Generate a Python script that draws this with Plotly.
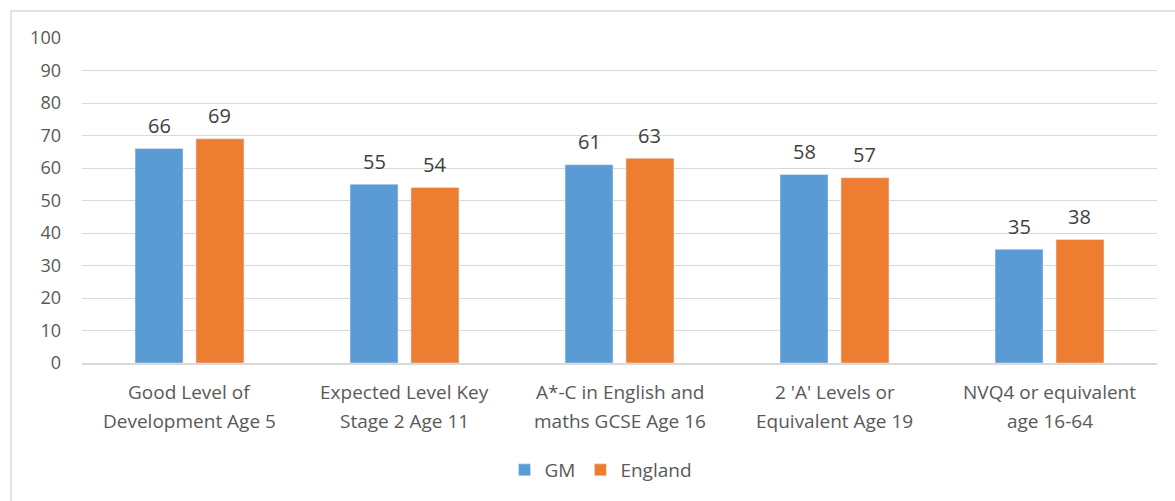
import plotly.graph_objects as go

categories = [
    "Good Level of<br>Development Age 5",
    "Expected Level Key<br>Stage 2 Age 11",
    "A*-C in English and<br>maths GCSE Age 16",
    "2 'A' Levels or<br>Equivalent Age 19",
    "NVQ4 or equivalent<br>age 16-64",
]
gm_values = [66, 55, 61, 58, 35]
england_values = [69, 54, 63, 57, 38]
y_ticks = [0, 10, 20, 30, 40, 50, 60, 70, 80, 90, 100]

FONT = "Open Sans"
TEXT_GREY = "#595959"
LABEL_GREY = "#404040"
GRID = "#d9d9d9"

W, H = 1175, 501
ML, MR, MT, MB = 82, 18, 38, 138
plot_w = W - ML - MR
plot_h = H - MT - MB

BARGAP = 0.433
GROUPGAP = 0.213
# horizontal offset of each bar centre from its category centre, in pixels
slot_px = plot_w / len(categories) * (1 - BARGAP) / 2

fig = go.Figure()
fig.add_trace(go.Bar(name="GM", x=categories, y=gm_values, marker_color="#5B9BD5"))
fig.add_trace(go.Bar(name="England", x=categories, y=england_values, marker_color="#ED7D31"))

# Value labels above each bar
for values, side in ((gm_values, -1), (england_values, 1)):
    for cat, v in zip(categories, values):
        fig.add_annotation(
            x=cat, xref="x", y=v, yref="y",
            text=str(v), showarrow=False,
            xanchor="center", yanchor="middle",
            xshift=side * slot_px / 2, yshift=23,
            font=dict(family=FONT, size=20, color=LABEL_GREY),
        )

# Category labels drawn as two stacked lines for wider line spacing
for cat in categories:
    for i, line in enumerate(cat.split("<br>")):
        fig.add_annotation(
            x=cat, xref="x", y=0, yref="paper",
            text=line, showarrow=False,
            yanchor="middle", xanchor="center",
            yshift=-29 - 29 * i,
            font=dict(family=FONT, size=19, color=TEXT_GREY),
        )

# Outer chart frame
fig.add_shape(
    type="rect", xref="paper", yref="paper",
    x0=(11 - ML) / plot_w, x1=(W + 5 - ML) / plot_w,
    y0=-(H + 5 - MT - plot_h) / plot_h, y1=1 + (MT - 11) / plot_h,
    line=dict(color=GRID, width=1.5), fillcolor="rgba(0,0,0,0)", layer="below",
)

fig.update_layout(
    width=W, height=H,
    margin=dict(l=ML, r=MR, t=MT, b=MB),
    paper_bgcolor="white", plot_bgcolor="white",
    barmode="group", bargap=BARGAP, bargroupgap=GROUPGAP,
    font=dict(family=FONT, color=TEXT_GREY),
    showlegend=True,
    legend=dict(
        orientation="h", x=(601 - ML) / plot_w, xanchor="center",
        y=-(470 - MT - plot_h) / plot_h, yanchor="middle",
        font=dict(family=FONT, size=19, color=TEXT_GREY),
        itemwidth=30, traceorder="normal",
    ),
    xaxis=dict(
        showticklabels=False, showgrid=False,
        showline=True, linecolor=GRID, linewidth=1.5, ticks="",
    ),
    yaxis=dict(
        range=[0, 100], tickvals=y_ticks,
        showgrid=True, gridcolor=GRID, gridwidth=1,
        zeroline=False, showline=False, ticks="",
        ticklabelstandoff=20,
        tickfont=dict(family=FONT, size=18, color=TEXT_GREY),
    ),
)

fig.write_html("out.html")
